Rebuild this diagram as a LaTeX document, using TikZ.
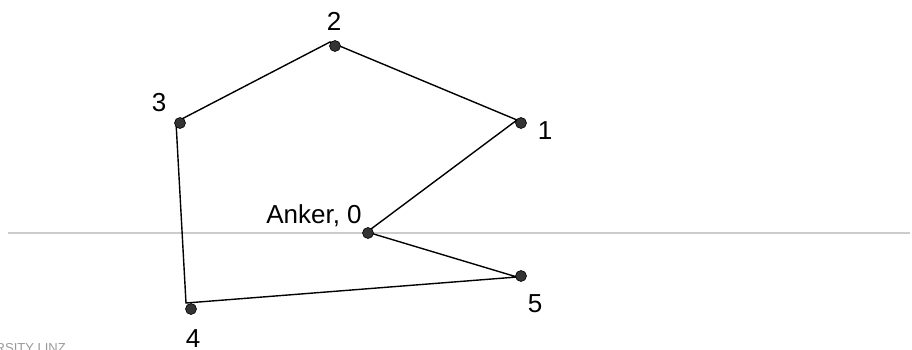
\documentclass[tikz,border=0pt]{standalone}
\usepackage{fontspec}
\setmainfont{Liberation Sans}
\begin{document}
\begin{tikzpicture}[x=1pt,y=-1pt,
  dot/.style={circle,fill=black!80,draw=black,line width=0.6pt,inner sep=0pt,minimum size=11pt},
  lbl/.style={font=\fontsize{26}{26}\selectfont,inner sep=0pt,anchor=center},
  edge/.style={line width=1.4pt,black}]
\useasboundingbox (0,0) rectangle (912,349);
\clip (0,0) rectangle (912,349);
% axis line
\draw[line width=1.5pt,black!20] (8,233) -- (910,233);
% polygon vertices
\coordinate (v0) at (367,232);
\coordinate (v1) at (517,120);
\coordinate (v2) at (330,42);
\coordinate (v3) at (176,122);
\coordinate (v4) at (186,303);
\coordinate (v5) at (517,277);
\draw[edge] (v0) -- (v1) -- (v2) -- (v3) -- (v4) -- (v5) -- (v0);
% dots
\node[dot] (d0) at (368,233) {};
\node[dot] (d1) at (521,123) {};
\node[dot] (d2) at (335,46) {};
\node[dot] (d3) at (180,123) {};
\node[dot] (d4) at (191,309) {};
\node[dot] (d5) at (521,276) {};
% labels
\node[lbl] (l0) at (314,216) {Anker, 0};
\node[lbl] (l1) at (545,131) {1};
\node[lbl] (l2) at (334,21) {2};
\node[lbl] (l3) at (159,103) {3};
\node[lbl] (l4) at (193,339) {4};
\node[lbl] (l5) at (535,304) {5};
% cut-off footer text
\node[font=\fontsize{13}{13}\selectfont,text=black!40,anchor=base east,inner sep=0pt] (ft) at (66,352) {UNIVERSITY LINZ};
\end{tikzpicture}
\end{document}
